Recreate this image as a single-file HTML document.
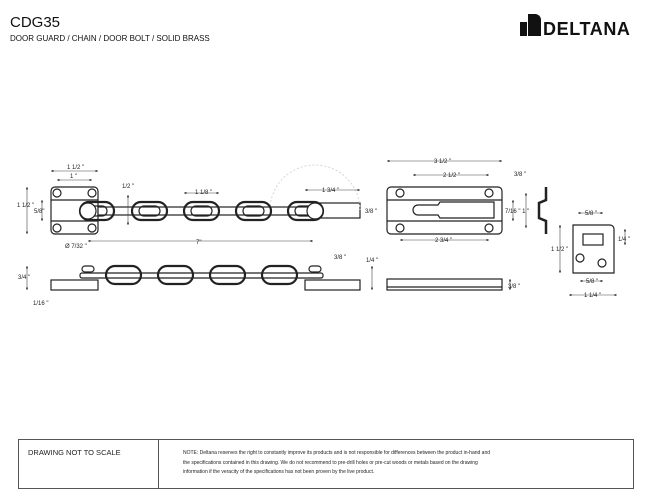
<!DOCTYPE html>
<html><head><meta charset="utf-8"><style>
body{margin:0;background:#fff;width:649px;height:500px;overflow:hidden;font-family:"Liberation Sans",sans-serif}
svg{position:absolute;left:0;top:0}
</style></head><body>
<svg width="649" height="500" viewBox="0 0 649 500" font-family="Liberation Sans, sans-serif">
<defs>
<marker id="a" viewBox="0 0 6 6" refX="6" refY="3" markerWidth="4" markerHeight="4" orient="auto-start-reverse"><path d="M0,0L6,3L0,6z" fill="#222"/></marker>
</defs>
<text x="10" y="27" font-size="15" fill="#111">CDG35</text>
<text x="10" y="41" font-size="8" fill="#111">DOOR GUARD / CHAIN / DOOR BOLT / SOLID BRASS</text>
<!-- logo -->
<rect x="520" y="22" width="7" height="14" fill="#111"/>
<path d="M528,14h7a6,6 0 0 1 6,6v0v16h-13z" fill="#111"/>
<path d="M535,14a7,7 0 0 1 6,7v15h-6z" fill="#111"/>
<text x="543" y="35" font-size="18" font-weight="bold" letter-spacing="0.6" fill="#111">DELTANA</text>

<g fill="none" stroke="#222" stroke-width="1.2">
<rect x="51" y="187" width="47" height="47" rx="4"/>
<line x1="51" y1="200" x2="98" y2="200"/><line x1="51" y1="221" x2="98" y2="221"/>
<circle cx="57" cy="193" r="4"/><circle cx="92" cy="193" r="4"/><circle cx="57" cy="228" r="4"/><circle cx="92" cy="228" r="4"/>
<rect x="313" y="203" width="47" height="15"/>
<path d="M270,210A45,45 0 0 1 360,210" stroke="#ccc" stroke-dasharray="2,2" stroke-width="0.8"/>
<rect x="98" y="207" width="217" height="8" fill="#fff"/>
<rect x="80" y="202" width="34" height="18" rx="9" stroke-width="2.2"/>
<rect x="132" y="202" width="35" height="18" rx="9" stroke-width="2.2"/>
<rect x="184" y="202" width="35" height="18" rx="9" stroke-width="2.2"/>
<rect x="236" y="202" width="35" height="18" rx="9" stroke-width="2.2"/>
<rect x="288" y="202" width="35" height="18" rx="9" stroke-width="2.2"/>
<rect x="87" y="206" width="20" height="10" rx="5"/><rect x="139" y="206" width="21" height="10" rx="5"/><rect x="191" y="206" width="21" height="10" rx="5"/><rect x="243" y="206" width="21" height="10" rx="5"/><rect x="295" y="206" width="21" height="10" rx="5"/>
<circle cx="88" cy="211" r="8" fill="#fff"/><circle cx="315" cy="211" r="8" fill="#fff"/>
<rect x="51" y="280" width="47" height="10"/><rect x="305" y="280" width="55" height="10"/>
<rect x="80" y="273" width="243" height="5" rx="2"/>
<rect x="106" y="266" width="35" height="18" rx="9" stroke-width="2.2"/>
<rect x="158" y="266" width="35" height="18" rx="9" stroke-width="2.2"/>
<rect x="210" y="266" width="35" height="18" rx="9" stroke-width="2.2"/>
<rect x="262" y="266" width="35" height="18" rx="9" stroke-width="2.2"/>
<rect x="82" y="266" width="12" height="6" rx="3"/><rect x="309" y="266" width="12" height="6" rx="3"/>
<rect x="387" y="187" width="115" height="47" rx="4"/>
<line x1="387" y1="200" x2="502" y2="200"/><line x1="387" y1="221" x2="502" y2="221"/>
<circle cx="400" cy="193" r="4"/><circle cx="489" cy="193" r="4"/><circle cx="400" cy="228" r="4"/><circle cx="489" cy="228" r="4"/>
<path d="M418,205h20l2,-3h54v16h-54l-2,-3h-20a5,5 0 0 1 0,-10z"/>
<rect x="387" y="279" width="115" height="11"/><line x1="387" y1="287" x2="502" y2="287"/>
<path d="M546,187v13l-7,3v15l7,3v13" stroke-width="2.5"/>
<path d="M573,225h37a4,4 0 0 1 4,4v44h-41z"/>
<rect x="583" y="234" width="20" height="11"/>
<circle cx="580" cy="258" r="4"/><circle cx="602" cy="263" r="4"/>
</g>

<g stroke="#444" stroke-width="0.6" fill="none" marker-start="url(#a)" marker-end="url(#a)">
<line x1="51" y1="171" x2="98" y2="171"/><line x1="57" y1="180" x2="92" y2="180"/>
<line x1="27" y1="187" x2="27" y2="234"/><line x1="42" y1="200" x2="42" y2="221"/>
<line x1="128" y1="195" x2="128" y2="225"/><line x1="184" y1="193" x2="219" y2="193"/>
<line x1="305" y1="190" x2="360" y2="190"/><line x1="88" y1="241" x2="313" y2="241"/>
<line x1="387" y1="161" x2="502" y2="161"/><line x1="413" y1="175" x2="489" y2="175"/><line x1="400" y1="240" x2="489" y2="240"/>
<line x1="513" y1="200" x2="513" y2="221"/><line x1="526" y1="193" x2="526" y2="228"/>
<line x1="578" y1="213" x2="603" y2="213"/><line x1="560" y1="225" x2="560" y2="273"/>
<line x1="625" y1="229" x2="625" y2="245"/><line x1="580" y1="281" x2="603" y2="281"/><line x1="569" y1="295" x2="617" y2="295"/>
<line x1="27" y1="266" x2="27" y2="290"/><line x1="510" y1="279" x2="510" y2="290"/><line x1="372" y1="266" x2="372" y2="290"/>
</g>
<g font-size="6" fill="#222">
<text x="67" y="169">1 1/2 "</text><text x="70" y="178">1 "</text>
<text x="17" y="207">1 1/2 "</text><text x="34" y="213">5/8"</text>
<text x="122" y="188">1/2 "</text><text x="195" y="194">1 1/8 "</text>
<text x="322" y="192">1 3/4 "</text><text x="365" y="213">3/8 "</text>
<text x="196" y="244">7"</text><text x="65" y="248">Ø 7/32 "</text>
<text x="18" y="279">3/4 "</text><text x="33" y="305">1/16 "</text>
<text x="334" y="259">3/8 "</text><text x="366" y="262">1/4 "</text>
<text x="434" y="163">3 1/2 "</text><text x="443" y="177">2 1/2 "</text><text x="435" y="242">2 3/4 "</text>
<text x="505" y="213">7/16 " 1 "</text><text x="514" y="176">3/8 "</text>
<text x="585" y="215">5/8 "</text><text x="618" y="241">1/4 "</text><text x="551" y="251">1 1/2 "</text>
<text x="586" y="283">5/8 "</text><text x="584" y="297">1 1/4 "</text><text x="508" y="288">3/8 "</text>
</g>
<rect x="18.5" y="439.5" width="615" height="49" fill="none" stroke="#555" stroke-width="1"/>
<line x1="158.5" y1="439" x2="158.5" y2="489" stroke="#555"/>
<text x="28" y="455" font-size="7.5" fill="#222">DRAWING NOT TO SCALE</text>
<g font-size="5" fill="#222">
<text x="183" y="454">NOTE: Deltana reserves the right to constantly improve its products and is not responsible for differences between the product in-hand and</text>
<text x="183" y="464">the specifications contained in this drawing.  We do not recommend to pre-drill holes or pre-cut woods or metals based on the drawing</text>
<text x="183" y="473">information if the veracity of the specifications has not been proven by the live product.</text>
</g>
</svg>
</body></html>
